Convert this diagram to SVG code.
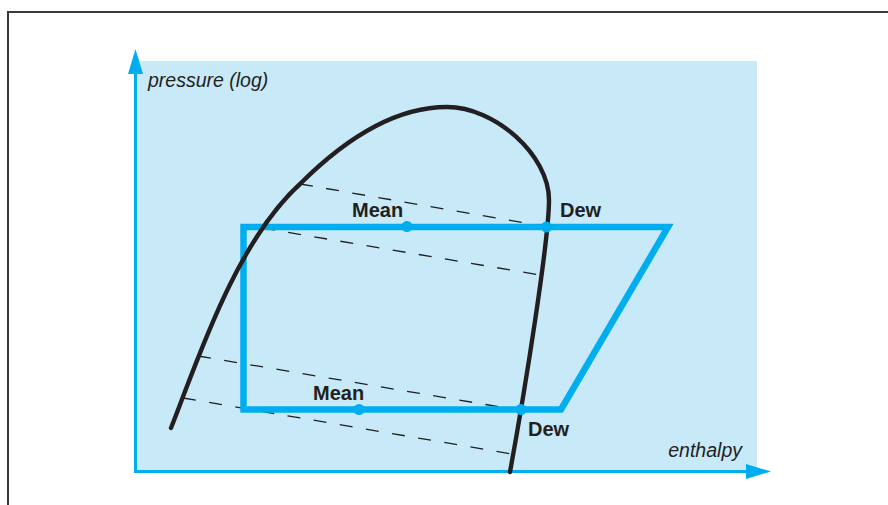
<svg xmlns="http://www.w3.org/2000/svg" width="888" height="505" viewBox="0 0 888 505">
<style>
.lbl{font-family:"Liberation Sans",Arial,sans-serif;font-weight:bold;font-size:20px;fill:#231f20}
.ax{font-family:"Liberation Sans",Arial,sans-serif;font-style:italic;font-size:19.5px;fill:#231f20}
.dash{fill:none;stroke:#231f20;stroke-width:1.3;stroke-dasharray:13 13.5}
.dot{fill:#00aeef}
</style>
<rect width="888" height="505" fill="#ffffff"/>
<path d="M8 515 V12 H895" fill="none" stroke="#3a3a3a" stroke-width="2"/>
<rect id="plot-area" x="137" y="61" width="620" height="411" fill="#c7e9f8"/>
<g id="axes" fill="#00aeef" stroke="none">
  <line x1="135.5" y1="473" x2="135.5" y2="70" stroke="#00aeef" stroke-width="3"/>
  <polygon points="128,74 135.5,49 143,74"/>
  <line x1="134" y1="471.5" x2="750" y2="471.5" stroke="#00aeef" stroke-width="3"/>
  <polygon points="746,464 771,471.5 746,479"/>
  <text class="ax" x="148" y="87">pressure (log)</text>
  <text class="ax" x="742" y="457" text-anchor="end">enthalpy</text>
</g>
<g id="connectors">
  <line class="dash" x1="300" y1="184" x2="543" y2="226"/>
  <line class="dash" x1="262" y1="228" x2="540" y2="275"/>
  <line class="dash" x1="198" y1="356" x2="518" y2="410"/>
  <line class="dash" x1="183" y1="398" x2="512" y2="454"/>
</g>
<g id="cycle">
  <polygon points="243.5,227 668,227 561,409.5 243.5,409.5" fill="none" stroke="#00aeef" stroke-width="6.5" stroke-linejoin="miter"/>
</g>
<g id="saturation-curve">
  <path d="M171 428 C195 368 234 244 300 184 C333 151 387 107 447 107 C495 107 549 155 549 200 C549 240 525 390 510 472" fill="none" stroke="#231f20" stroke-width="4.4" stroke-linecap="round"/>
</g>
<g id="mean-high">
  <circle class="dot" cx="407" cy="226.5" r="5.5"/>
  <text class="lbl" x="352" y="217">Mean</text>
</g>
<g id="dew-high">
  <circle class="dot" cx="546.5" cy="227" r="5.5"/>
  <text class="lbl" x="560" y="217">Dew</text>
</g>
<g id="mean-low">
  <circle class="dot" cx="359" cy="409.5" r="5.5"/>
  <text class="lbl" x="313" y="400">Mean</text>
</g>
<g id="dew-low">
  <circle class="dot" cx="521" cy="409.5" r="5.5"/>
  <text class="lbl" x="528" y="436">Dew</text>
</g>
</svg>
